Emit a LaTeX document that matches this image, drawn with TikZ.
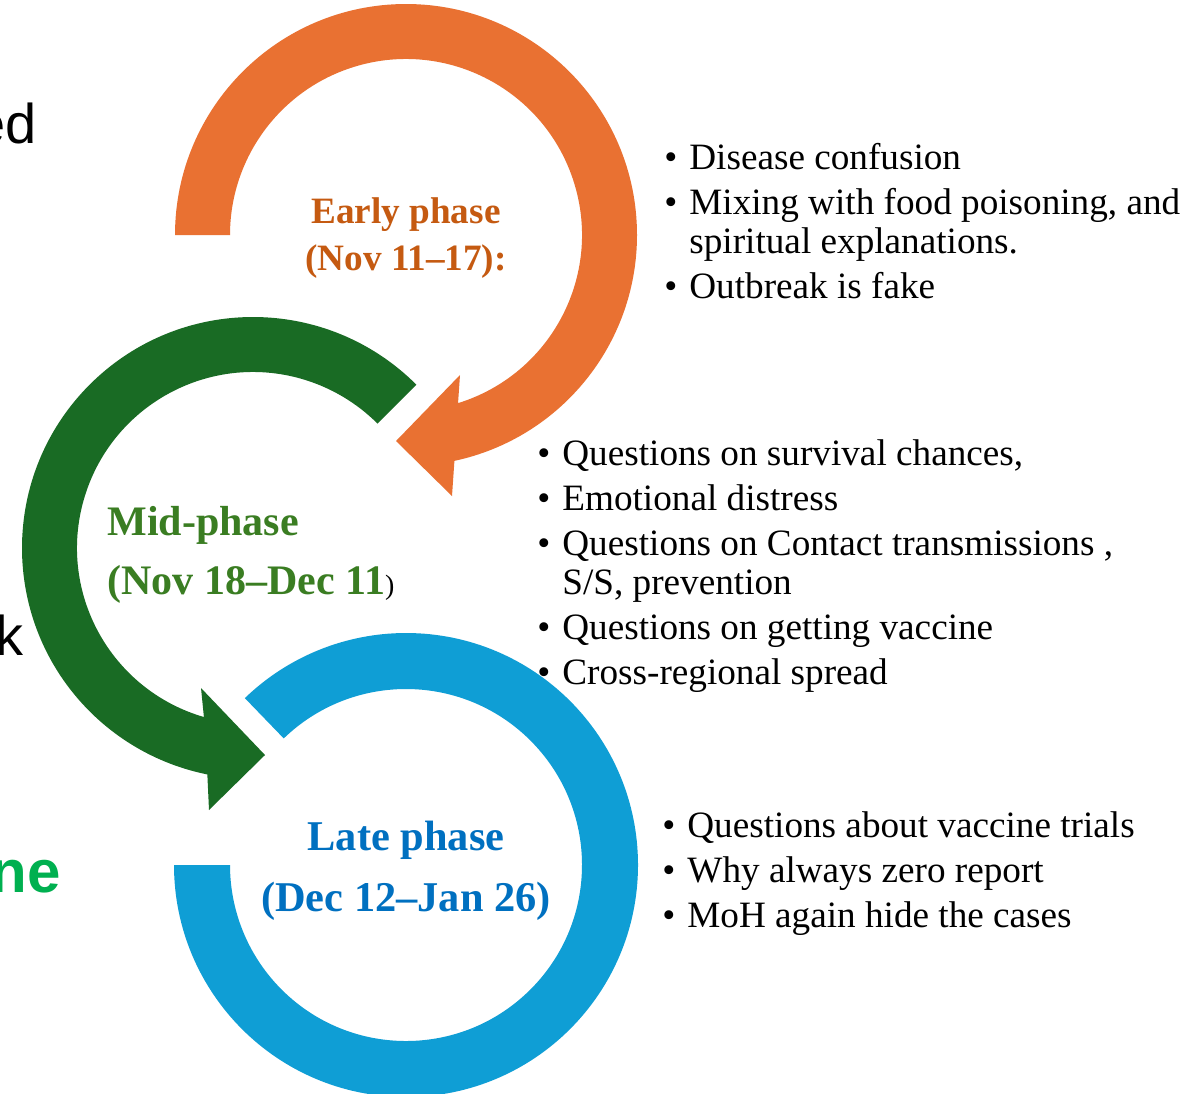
\documentclass[tikz,border=0pt]{standalone}
\usepackage{fontspec}
\setmainfont{Liberation Serif}
\newfontfamily\arialf{Liberation Sans}
\usetikzlibrary{calc}
\definecolor{arcorange}{HTML}{E97132}
\definecolor{arcgreen}{HTML}{196B24}
\definecolor{arcblue}{HTML}{0F9ED5}
\definecolor{txtorange}{HTML}{C55A11}
\definecolor{txtgreen}{HTML}{3A7D22}
\definecolor{txtblue}{HTML}{0070C0}
\definecolor{pptgreen}{HTML}{00B050}
\newcommand\mybul{\llap{\textbullet\hspace{6pt}}}
\begin{document}
\begin{tikzpicture}[x=0.5pt,y=-0.5pt,
  bul/.style={anchor=base west,inner sep=0pt,font=\fontsize{18.6}{19.5}\selectfont},
  labA/.style={anchor=base,inner sep=0pt,font=\fontsize{18.6}{20}\selectfont\bfseries},
  labB/.style={anchor=base west,inner sep=0pt,font=\fontsize{21}{23}\selectfont\bfseries},
  labC/.style={anchor=base,inner sep=0pt,font=\fontsize{21.2}{23}\selectfont\bfseries},
  cut/.style={anchor=base east,inner sep=0pt}]
\useasboundingbox (0,0) rectangle (1203,1093);
\fill[white] (0,0) rectangle (1203,1093);

\coordinate (O1) at (406,235);
\coordinate (O2) at (253,548);
\coordinate (O3) at (406,865);

% cropped texts at left edge
\node[cut,font=\arialf\fontsize{28}{30}\selectfont] (cA) at (37,143) {ed};
\node[cut,font=\arialf\fontsize{28}{30}\selectfont] (cB) at (24,655) {k};
\node[cut,font=\arialf\bfseries\fontsize{30}{32}\selectfont,text=pptgreen] (cC) at (61,892) {ne};

% early bullets
\node[bul] (e1) at (689,169) {\mybul Disease confusion};
\node[bul] (e2) at (689,214) {\mybul Mixing with food poisoning, and};
\node[bul] (e2b) at (689,253) {spiritual explanations.};
\node[bul] (e3) at (689,298) {\mybul Outbreak is fake};

% mid bullets
\node[bul] (m1) at (562,465) {\mybul Questions on survival chances,};
\node[bul] (m2) at (562,510) {\mybul Emotional distress};
\node[bul] (m3) at (562,555) {\mybul Questions on Contact transmissions ,};
\node[bul] (m3b) at (562,594) {S/S, prevention};
\node[bul] (m4) at (562,639) {\mybul Questions on getting vaccine};
\node[bul] (m5) at (562,684) {\mybul Cross-regional spread};

% late bullets
\node[bul] (l1) at (687,837) {\mybul Questions about vaccine trials};
\node[bul] (l2) at (687,882) {\mybul Why always zero report};
\node[bul] (l3) at (687,927) {\mybul MoH again hide the cases};

% arcs
\fill[arcorange] ($(O1)+(180:231)$) arc[start angle=180,end angle=437.9,radius=231]
  -- (452,496) -- (396,441) -- (460,375) -- ($(O1)+(72.8:176)$)
  arc[start angle=72.8,end angle=-180,radius=176] -- cycle;
\fill[arcgreen] ($(O2)+(-45:231)$) arc[start angle=-45,end angle=-258.6,radius=231]
  -- (209,810) -- (265,755) -- (201,688) -- ($(O2)+(-253.8:176)$)
  arc[start angle=-253.8,end angle=-45,radius=176] -- cycle;
\fill[arcblue] ($(O3)+(180:232)$) arc[start angle=180,end angle=-134,radius=232]
  -- ($(O3)+(-134:176)$) arc[start angle=-134,end angle=180,radius=176] -- cycle;

% phase labels
\node[labA,text=txtorange] (ea) at (406,223) {Early phase};
\node[labA,text=txtorange] (eb) at (406,270) {(Nov 11–17):};
\node[labB,text=txtgreen] (ma) at (107,535) {Mid-phase};
\node[labB,text=txtgreen] (mb) at (107,594) {(Nov 18–Dec 11{\color{black}\mdseries\fontsize{14}{16}\selectfont)}};
\node[labC,text=txtblue] (la) at (406,850) {Late phase};
\node[labC,text=txtblue] (lb) at (406,911) {(Dec 12–Jan 26)};
\end{tikzpicture}
\end{document}
